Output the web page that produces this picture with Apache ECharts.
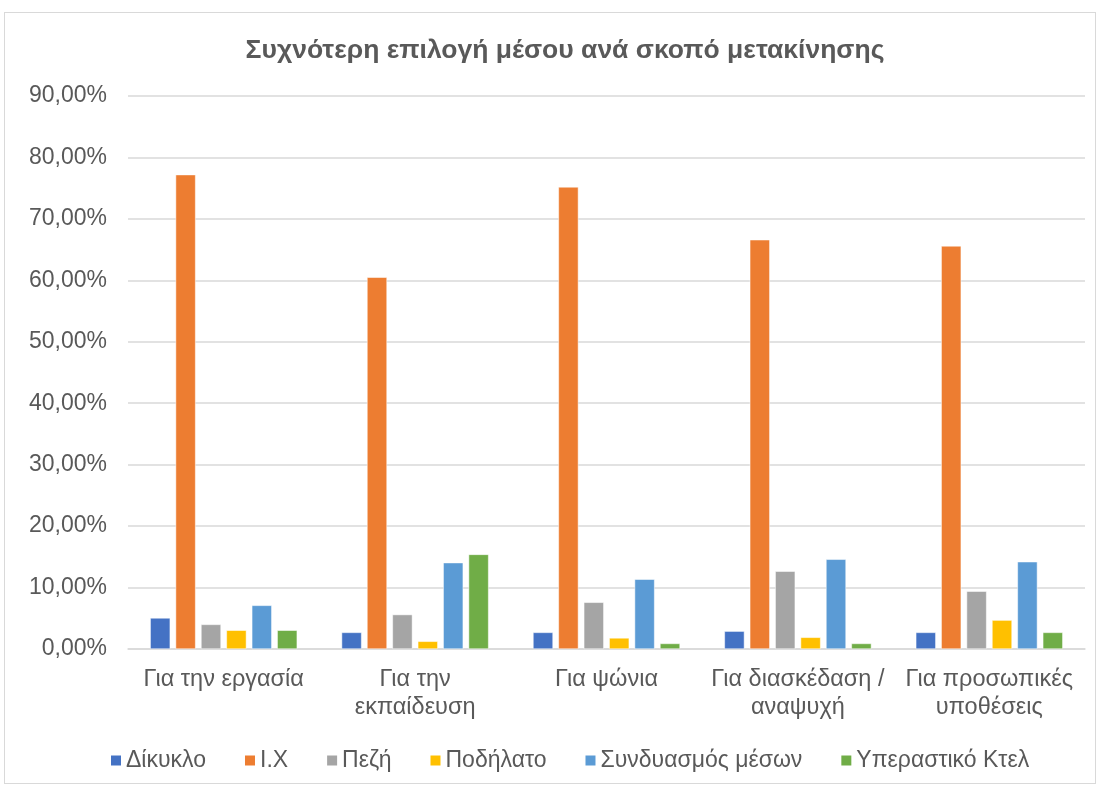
<!DOCTYPE html>
<html>
<head>
<meta charset="utf-8">
<script src="https://cdn.jsdelivr.net/npm/echarts@6/dist/echarts.min.js"></script>
<style>
  html, body { margin: 0; padding: 0; background: #fff; }
  #frame { position: absolute; left: 4px; top: 12px; width: 1092px; height: 772px; border: 1px solid #d9d9d9; box-sizing: border-box; }
  #chart { position: absolute; left: 0; top: 0; width: 1099px; height: 788px; }
</style>
</head>
<body>
<div id="frame"></div>
<div id="chart"></div>
<script>
const categories = ['Για την εργασία', 'Για την\nεκπαίδευση', 'Για ψώνια', 'Για διασκέδαση /\nαναψυχή', 'Για προσωπικές\nυποθέσεις'];
const dikyklo = [5.05, 2.7, 2.7, 2.9, 2.7];
const ix = [77.2, 60.5, 75.2, 66.6, 65.6];
const pezi = [4.0, 5.6, 7.6, 12.65, 9.4];
const podilato = [3.05, 1.25, 1.8, 1.9, 4.7];
const syndyasmos = [7.1, 14.05, 11.35, 14.6, 14.2];
const ktel = [3.05, 15.4, 0.9, 0.9, 2.7];

const font = '"Liberation Sans", Arial, sans-serif';
const textColor = '#595959';

const bar = (name, data) => ({
  name,
  type: 'bar',
  barWidth: 20,
  barGap: '27%',
  itemStyle: { borderColor: '#fff', borderWidth: 0.5 },
  data,
});

const chart = echarts.init(document.getElementById('chart'));
chart.setOption({
  animation: false,
  color: ['#4472C4', '#ED7D31', '#A5A5A5', '#FFC000', '#5B9BD5', '#70AD47'],
  title: {
    text: 'Συχνότερη επιλογή μέσου ανά σκοπό μετακίνησης',
    left: 560,
    top: 32,
    textAlign: 'center',
    textStyle: { fontFamily: font, fontSize: 26.5, fontWeight: 'bold', color: textColor },
  },
  legend: {
    left: 104,
    top: 744,
    icon: 'rect',
    itemWidth: 12,
    itemHeight: 12,
    itemGap: 37,
    textStyle: { fontFamily: font, fontSize: 23, color: textColor, padding: [0, 0, 0, -1] },
  },
  grid: { left: 128, right: 14, top: 96, bottom: 139 },
  xAxis: {
    type: 'category',
    data: categories,
    axisTick: { show: false },
    axisLine: { lineStyle: { color: '#d9d9d9', width: 1.5 } },
    axisLabel: { fontFamily: font, fontSize: 23.5, color: textColor, lineHeight: 28, margin: 17, interval: 0 },
  },
  yAxis: {
    type: 'value',
    min: 0,
    max: 90,
    interval: 10,
    axisLine: { show: false },
    axisTick: { show: false },
    splitLine: { lineStyle: { color: '#d9d9d9', width: 1.5 } },
    axisLabel: {
      fontFamily: font,
      fontSize: 23,
      color: textColor,
      margin: 21,
      formatter: (v) => v.toFixed(2).replace('.', ',') + '%',
    },
  },
  series: [
    bar('Δίκυκλο', dikyklo),
    bar('Ι.Χ', ix),
    bar('Πεζή', pezi),
    bar('Ποδήλατο', podilato),
    bar('Συνδυασμός μέσων', syndyasmos),
    bar('Υπεραστικό Κτελ', ktel),
  ],
});
</script>
</body>
</html>
